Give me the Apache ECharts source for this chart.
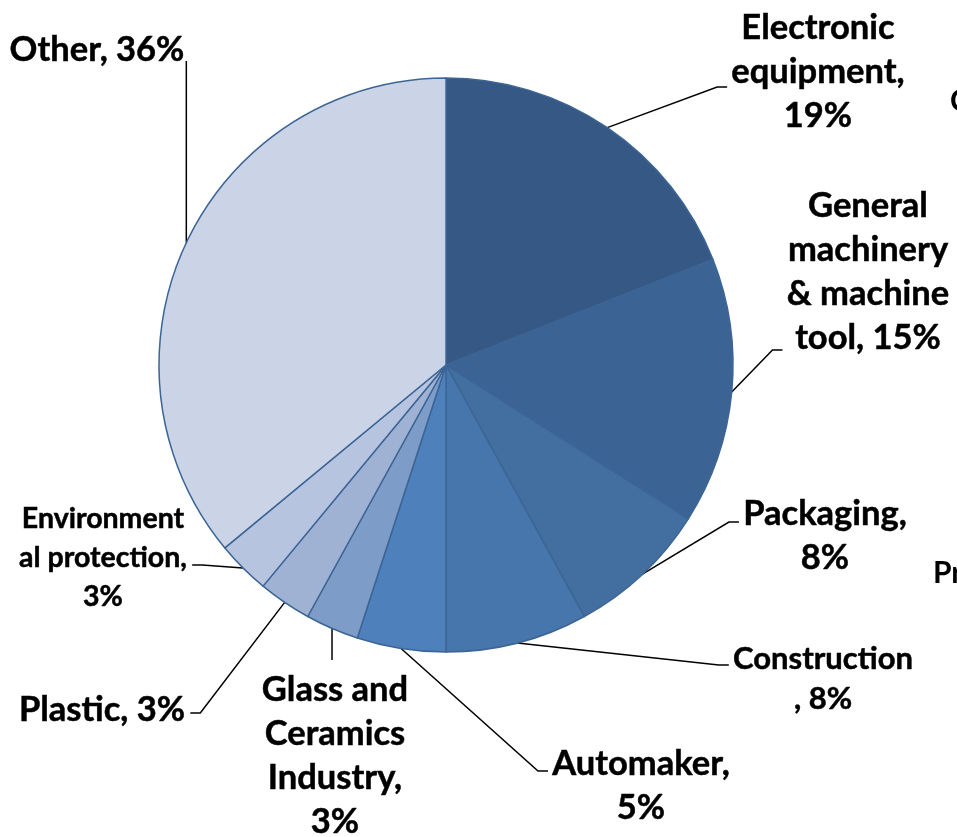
<!DOCTYPE html>
<html>
<head>
<meta charset="utf-8">
<script src="https://cdn.jsdelivr.net/npm/echarts@6/dist/echarts.min.js"></script>
<style>
  html, body { margin: 0; padding: 0; background: #ffffff; }
  #chart { width: 957px; height: 837px; }
</style>
</head>
<body>
<div id="chart"></div>
<script>
// Share of demand by end-use industry (%), clockwise from 12 o'clock
const categories = [
  'Electronic equipment',
  'General machinery & machine tool',
  'Packaging',
  'Construction',
  'Automaker',
  'Glass and Ceramics Industry',
  'Plastic',
  'Environmental protection',
  'Other'
];
const shares = [19, 15, 8, 8, 5, 3, 3, 3, 36];

// How each category name is wrapped in its label (the value follows)
const wrappedNames = [
  'Electronic\nequipment,\n',
  'General\nmachinery\n& machine\ntool, ',
  'Packaging,\n',
  'Construction\n, ',
  'Automaker,\n',
  'Glass and\nCeramics\nIndustry,\n',
  'Plastic, ',
  'Environment\nal protection,\n',
  'Other, '
];

const sliceColors = [
  '#355984', '#3b6495', '#426ea0', '#4776ac', '#4e80bc',
  '#7d9cc8', '#9fb2d4', '#b6c4e0', '#cbd4e6'
];

// Label placement: block centre, the side the leader line meets, and
// a vertical offset of that meeting point from the block centre.
const labelSpots = [
  { x: 818, y: 72,  side: 'left',  dy: 15 },
  { x: 868, y: 272, side: 'left',  dy: 78 },
  { x: 825, y: 536, side: 'left',  dy: -14 },
  { x: 823, y: 679, side: 'left',  dy: -14 },
  { x: 641, y: 786, side: 'left',  dy: -15 },
  { x: 335, y: 756, side: 'top',   dy: 0 },
  { x: 102, y: 710, side: 'right', dy: 3 },
  { x: 103, y: 558, side: 'right', dy: 7 },
  { x: 97,  y: 50,  side: 'right', dy: 11 }
];

const smallText = { 3: { fontSize: 31, lineHeight: 40 }, 7: { fontSize: 28.5, lineHeight: 39 } };

const chart = echarts.init(document.getElementById('chart'), null, { renderer: 'canvas' });

const pieData = categories.map((name, i) => {
  const item = {
    name: name,
    value: shares[i],
    itemStyle: { color: sliceColors[i] }
  };
  if (smallText[i]) item.label = smallText[i];
  return item;
});

chart.setOption({
  animation: false,
  backgroundColor: '#ffffff',
  series: [{
    type: 'pie',
    center: [446, 365],
    radius: 287,
    startAngle: 90,
    clockwise: true,
    avoidLabelOverlap: false,
    data: pieData,
    itemStyle: { borderColor: '#3c6596', borderWidth: 1.5 },
    emphasis: { disabled: true },
    label: {
      show: true,
      position: 'outside',
      bleedMargin: -1000,
      color: '#000000',
      textBorderColor: '#000000',
      textBorderWidth: 0.5,
      fontFamily: 'Lato, "Open Sans", sans-serif',
      fontWeight: 'bold',
      fontSize: 34.5,
      lineHeight: 44,
      align: 'center',
      formatter: p => wrappedNames[p.dataIndex] + p.value + '%'
    },
    labelLine: {
      show: true,
      length: 20,
      length2: 10,
      lineStyle: { color: '#000000', width: 1.5 }
    },
    labelLayout: function (p) {
      const s = labelSpots[p.dataIndex];
      const w = p.labelRect.width, h = p.labelRect.height;
      const start = p.labelLinePoints[0];
      let end, elbow;
      if (s.side === 'left') {
        end = [s.x - w / 2 - 4, s.y + s.dy];
        elbow = [end[0] - 10, end[1]];
      } else if (s.side === 'right') {
        end = [s.x + w / 2 + 5, s.y + s.dy];
        elbow = [end[0] + 10, end[1]];
      } else {
        end = [start[0], s.y - h / 2 - 8];
        elbow = end.slice();
      }
      if (p.dataIndex === 8) {
        // vertical drop from the label to the slice
        end = [start[0], s.y + s.dy];
        elbow = end.slice();
      }
      return {
        x: s.x,
        y: s.y,
        align: 'center',
        verticalAlign: 'middle',
        labelLinePoints: [start, elbow, end]
      };
    }
  }],
  graphic: [
    {
      type: 'text', left: 950, top: 86,
      style: { text: 'C', fontFamily: 'Lato, sans-serif', fontWeight: 'bold', fontSize: 30, fill: '#000000' }
    },
    {
      type: 'text', left: 933, top: 558,
      style: { text: 'Pr', fontFamily: 'Lato, sans-serif', fontWeight: 'bold', fontSize: 30, fill: '#000000' }
    }
  ]
});
</script>
</body>
</html>
